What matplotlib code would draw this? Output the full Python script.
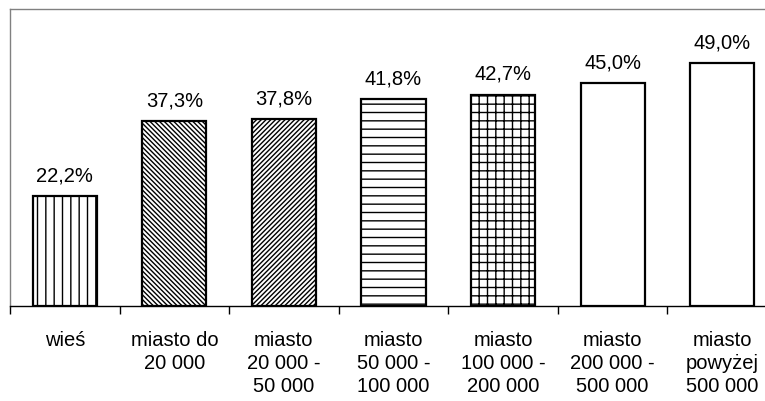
import matplotlib
matplotlib.use("Agg")
import matplotlib.pyplot as plt
import numpy as np

# Share of respondents by place of residence
categories = [
    "wieś",
    "miasto do\n20 000",
    "miasto\n20 000 -\n50 000",
    "miasto\n50 000 -\n100 000",
    "miasto\n100 000 -\n200 000",
    "miasto\n200 000 -\n500 000",
    "miasto\npowyżej\n500 000",
]
values = [22.2, 37.3, 37.8, 41.8, 42.7, 45.0, 49.0]
hatches = ["||", "\\" * 7, "/" * 7, "--", "++", "", ""]

plt.rcParams["font.family"] = ["Liberation Sans", "DejaVu Sans"]
plt.rcParams["hatch.linewidth"] = 1.0
plt.rcParams["hatch.color"] = "black"

W, H = 765, 402
fig = plt.figure(figsize=(W / 100, H / 100), dpi=100)
x0, y_top, y_base, x1 = 10, 10, 307, 777
ax = fig.add_axes([x0 / W, (H - y_base) / H, (x1 - x0) / W, (y_base - y_top) / H])

x = np.arange(len(categories))
bars = ax.bar(x, values, width=0.585, color="white", edgecolor="black",
              linewidth=1.6, hatch=hatches, zorder=3)

for xi, v in zip(x, values):
    ax.annotate(f"{v:.1f}%".replace(".", ","), (xi, v), xytext=(0, 8.5),
                textcoords="offset points", ha="center", va="bottom",
                fontsize=14.5, color="black")

ax.set_xlim(-0.5, len(categories) - 0.5)
ax.set_ylim(0, 60)
ax.set_yticks([])

ax.set_xticks(x)
ax.set_xticklabels(categories, fontsize=14.5, linespacing=1.28)
ax.tick_params(axis="x", which="major", length=0, pad=17)
ax.set_xticks(np.arange(-0.5, len(categories)), minor=True)
ax.tick_params(axis="x", which="minor", length=6, width=1, color="black", direction="out")

for side in ("top", "left", "right"):
    ax.spines[side].set_color("#808080")
    ax.spines[side].set_linewidth(1.0)
ax.spines["bottom"].set_color("black")
ax.spines["bottom"].set_linewidth(1.0)

fig.savefig("out.png", dpi=100)
